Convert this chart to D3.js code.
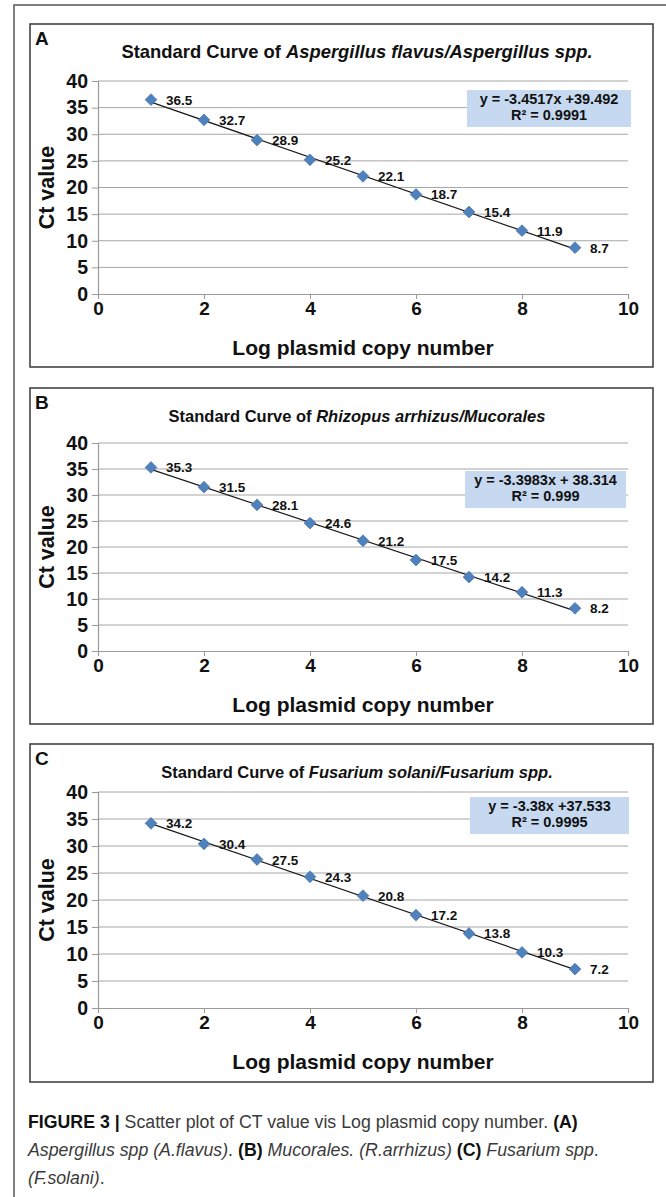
<!DOCTYPE html>
<html>
<head>
<meta charset="utf-8">
<script src="https://cdn.jsdelivr.net/npm/d3@7"></script>
<style>
  html, body { margin: 0; padding: 0; background: #fff; }
  svg { display: block; }
</style>
</head>
<body>
<svg id="chart" width="666" height="1197"></svg>
<script>
// ---------------- data ----------------
const panelLetters = ["A", "B", "C"];
const titlePrefix = "Standard Curve of ";
const titleSpecies = ["Aspergillus flavus/Aspergillus spp.", "Rhizopus arrhizus/Mucorales", "Fusarium solani/Fusarium spp."];
const logCopyNumber = [1, 2, 3, 4, 5, 6, 7, 8, 9];
const ctA = [36.5, 32.7, 28.9, 25.2, 22.1, 18.7, 15.4, 11.9, 8.7];
const ctB = [35.3, 31.5, 28.1, 24.6, 21.2, 17.5, 14.2, 11.3, 8.2];
const ctC = [34.2, 30.4, 27.5, 24.3, 20.8, 17.2, 13.8, 10.3, 7.2];
const slopes = [-3.4517, -3.3983, -3.38];
const intercepts = [39.492, 38.314, 37.533];
const equationLabels = ["y = -3.4517x +39.492", "y = -3.3983x + 38.314", "y = -3.38x +37.533"];
const r2Labels = ["R² = 0.9991", "R² = 0.999", "R² = 0.9995"];
const xTicks = [0, 2, 4, 6, 8, 10];
const yTicks = [0, 5, 10, 15, 20, 25, 30, 35, 40];
const xTitle = "Log plasmid copy number";
const yTitle = "Ct value";
const seriesList = [ctA, ctB, ctC];

// ---------------- layout ----------------
const layout = [
  { top: 24,  bottom: 367,  plotTop: 81,  plotBottom: 294,  eqTop: 90,  eqLeft: 467, eqRight: 631, titleSize: 18.4 },
  { top: 388, bottom: 724,  plotTop: 443, plotBottom: 651,  eqTop: 471, eqLeft: 465, eqRight: 626, titleSize: 16.5 },
  { top: 744, bottom: 1082, plotTop: 792, plotBottom: 1008, eqTop: 797, eqLeft: 470, eqRight: 629, titleSize: 16.5 }
];
const boxLeft = 30, boxRight = 653;
const plotLeft = 98, plotRight = 628;
const blue = "#4f81bd";
const fontChart = "'Liberation Sans', Arial, sans-serif";

const svg = d3.select("#chart");

// outer frame (only top and left edges visible)
svg.append("path")
  .attr("d", "M14,1197 L14,5 L666,5")
  .attr("fill", "none").attr("stroke", "#555").attr("stroke-width", 1.5);

const x = d3.scaleLinear().domain([0, 10]).range([plotLeft, plotRight]);

seriesList.forEach((series, i) => {
  const L = layout[i];
  const y = d3.scaleLinear().domain([0, 40]).range([L.plotBottom, L.plotTop]);
  const g = svg.append("g");

  // panel box
  g.append("rect")
    .attr("x", boxLeft).attr("y", L.top)
    .attr("width", boxRight - boxLeft).attr("height", L.bottom - L.top)
    .attr("fill", "#fff").attr("stroke", "#444").attr("stroke-width", 1.6);

  // panel letter
  g.append("text")
    .attr("x", 35).attr("y", L.top + 21)
    .attr("font-family", fontChart).attr("font-weight", "bold").attr("font-size", 19)
    .attr("fill", "#111").text(panelLetters[i]);

  // title
  const t = g.append("text")
    .attr("x", (plotLeft + plotRight) / 2 - 6).attr("y", L.top + 34)
    .attr("text-anchor", "middle")
    .attr("font-family", fontChart).attr("font-weight", "bold").attr("font-size", L.titleSize)
    .attr("fill", "#111");
  t.append("tspan").text(titlePrefix);
  t.append("tspan").attr("font-style", "italic").text(titleSpecies[i]);

  // gridlines
  g.append("g").selectAll("line").data(yTicks.filter(d => d > 0)).join("line")
    .attr("x1", plotLeft).attr("x2", plotRight)
    .attr("y1", d => y(d)).attr("y2", d => y(d))
    .attr("stroke", "#a6a6a6").attr("stroke-width", 1);

  // y axis
  const yAxis = g.append("g")
    .attr("transform", `translate(${plotLeft},0)`)
    .call(d3.axisLeft(y).tickValues(yTicks).tickSize(6).tickPadding(4));
  yAxis.select(".domain").attr("stroke", "#9a9a9a").attr("stroke-width", 1.2);
  yAxis.selectAll(".tick line").attr("stroke", "#9a9a9a");
  yAxis.selectAll(".tick text")
    .attr("font-family", fontChart).attr("font-weight", "bold").attr("font-size", 19.5)
    .attr("fill", "#111");

  // x axis
  const xAxis = g.append("g")
    .attr("transform", `translate(0,${L.plotBottom})`)
    .call(d3.axisBottom(x).tickValues(xTicks).tickSize(5).tickPadding(3));
  xAxis.select(".domain").attr("stroke", "#9a9a9a").attr("stroke-width", 1.2);
  xAxis.selectAll(".tick line").attr("stroke", "#9a9a9a");
  xAxis.selectAll(".tick text")
    .attr("font-family", fontChart).attr("font-weight", "bold").attr("font-size", 19)
    .attr("fill", "#111");

  // axis titles
  g.append("text")
    .attr("x", (plotLeft + plotRight) / 2).attr("y", L.plotBottom + 61)
    .attr("text-anchor", "middle")
    .attr("font-family", fontChart).attr("font-weight", "bold").attr("font-size", 21)
    .attr("fill", "#111").text(xTitle);
  g.append("text")
    .attr("transform", `translate(54,${(L.plotTop + L.plotBottom) / 2}) rotate(-90)`)
    .attr("text-anchor", "middle")
    .attr("font-family", fontChart).attr("font-weight", "bold").attr("font-size", 21.5)
    .attr("fill", "#111").text(yTitle);

  // equation box
  g.append("rect")
    .attr("x", L.eqLeft).attr("y", L.eqTop)
    .attr("width", L.eqRight - L.eqLeft).attr("height", 37)
    .attr("fill", "#c6d9f0");
  const eqCx = (L.eqLeft + L.eqRight) / 2;
  g.append("text")
    .attr("x", eqCx).attr("y", L.eqTop + 14)
    .attr("text-anchor", "middle")
    .attr("font-family", fontChart).attr("font-weight", "bold").attr("font-size", 14.5)
    .attr("fill", "#111").text(equationLabels[i]);
  g.append("text")
    .attr("x", eqCx).attr("y", L.eqTop + 30)
    .attr("text-anchor", "middle")
    .attr("font-family", fontChart).attr("font-weight", "bold").attr("font-size", 14.5)
    .attr("fill", "#111").text(r2Labels[i]);

  // trendline
  const xs = d3.extent(logCopyNumber);
  g.append("line")
    .attr("x1", x(xs[0])).attr("y1", y(slopes[i] * xs[0] + intercepts[i]))
    .attr("x2", x(xs[1])).attr("y2", y(slopes[i] * xs[1] + intercepts[i]))
    .attr("stroke", "#1a1a1a").attr("stroke-width", 1.2);

  // markers
  const pts = logCopyNumber.map((d, k) => ({ x: d, y: series[k] }));
  g.append("g").selectAll("path").data(pts).join("path")
    .attr("d", d3.symbol().type(d3.symbolSquare).size(70))
    .attr("transform", d => `translate(${x(d.x)},${y(d.y)}) rotate(45)`)
    .attr("fill", blue).attr("stroke", "#3f6ea6").attr("stroke-width", 0.6);

  // data labels
  g.append("g").selectAll("text").data(pts).join("text")
    .attr("x", d => x(d.x) + 15).attr("y", d => y(d.y) + 5)
    .attr("font-family", fontChart).attr("font-weight", "bold").attr("font-size", 13.5)
    .attr("fill", "#111").text(d => d.y.toFixed(1));
});

// ---------------- caption ----------------
const capFont = "'Liberation Sans', Arial, sans-serif";
const captionLines = [
  { y: 1128, parts: [
    { t: "FIGURE 3 | ", w: "bold" },
    { t: "Scatter plot of CT value vis Log plasmid copy number. " },
    { t: "(A)", w: "bold" } ] },
  { y: 1156, parts: [
    { t: "Aspergillus spp (A.flavus)", s: "italic" },
    { t: ". " },
    { t: "(B)", w: "bold" },
    { t: " " },
    { t: "Mucorales. (R.arrhizus)", s: "italic" },
    { t: " " },
    { t: "(C)", w: "bold" },
    { t: " " },
    { t: "Fusarium spp", s: "italic" },
    { t: "." } ] },
  { y: 1184, parts: [
    { t: "(F.solani)", s: "italic" },
    { t: "." } ] }
];
const capGroups = captionLines.map(line => {
  const gg = svg.append("g").attr("transform", `translate(28,${line.y})`);
  const tx = gg.append("text")
    .attr("x", 0).attr("y", 0)
    .attr("font-family", capFont).attr("font-size", 19)
    .attr("fill", "#3a3a3a")
    .attr("xml:space", "preserve");
  line.parts.forEach(p => {
    tx.append("tspan")
      .attr("font-weight", p.w || "normal")
      .attr("font-style", p.s || "normal")
      .attr("fill", p.w ? "#111" : "#3a3a3a")
      .text(p.t);
  });
  return { gg, tx, y: line.y };
});
// condense caption horizontally so the first line spans the reference width
const firstWidth = capGroups[0].tx.node().getComputedTextLength();
const capScale = 550 / firstWidth;
capGroups.forEach(c => c.gg.attr("transform", `translate(28,${c.y}) scale(${capScale},1)`));
</script>
</body>
</html>
